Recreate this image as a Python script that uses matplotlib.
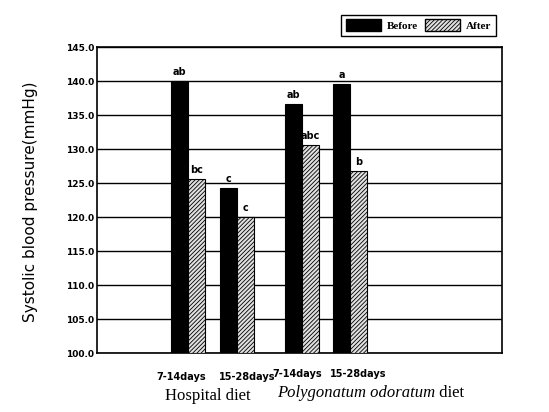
import numpy as np
import matplotlib.pyplot as plt
from matplotlib.patches import Patch

# ---------------- data ----------------
periods = ["7-14days", "15-28days", "7-14days", "15-28days"]
diets = ["Hospital diet", "Polygonatum odoratum diet"]
before = [140.0, 124.2, 136.6, 139.6]
after = [125.6, 120.0, 130.6, 126.8]
letters_before = ["ab", "c", "ab", "a"]
letters_after = ["bc", "c", "abc", "b"]
yticks = np.arange(100, 145.1, 5)

# ---------------- layout ----------------
x = np.array([0, 1, 2.33, 3.31])
w = 0.35

plt.rcParams['hatch.linewidth'] = 0.6
fig = plt.figure(figsize=(5.49, 4.12), dpi=100)
ax = fig.add_axes([0.1767, 0.1432, 0.7377, 0.7427])

hatch_fill = "#e0e0e0"
b1 = ax.bar(x - w / 2, [v - 100 for v in before], w, bottom=100,
            color="black", edgecolor="black", linewidth=0.8, zorder=3)
b2 = ax.bar(x + w / 2, [v - 100 for v in after], w, bottom=100,
            color=hatch_fill, edgecolor="black", hatch="////////", linewidth=0.8, zorder=3)

for xi, v, t in zip(x - w / 2, before, letters_before):
    ax.text(xi, v + 0.6, t, ha="center", va="bottom", fontsize=7, fontweight="bold")
for xi, v, t in zip(x + w / 2, after, letters_after):
    ax.text(xi, v + 0.6, t, ha="center", va="bottom", fontsize=7, fontweight="bold")

ax.set_ylim(100, 145)
ax.set_xlim(-1.86, 6.41)
ax.set_yticks(yticks)
ax.set_yticklabels([f"{t:.1f}" for t in yticks], fontsize=6.5, fontweight="bold")
ax.tick_params(axis="y", length=0, pad=2)
ax.set_xticks([])
ax.yaxis.grid(True, color="black", linewidth=1.0, zorder=0)
ax.set_axisbelow(True)
for s in ax.spines.values():
    s.set_linewidth(1.2)

# period labels
tick_off = [-0.14, 0.2, -0.1, 0.17]
tick_y = [-0.078, -0.078, -0.07, -0.07]
for xi, off, ty, p in zip(x, tick_off, tick_y, periods):
    ax.text(xi + off, ty, p, transform=ax.get_xaxis_transform(),
            ha="center", va="center", fontsize=7, fontweight="bold")

# diet labels
ax.text(0.5 - 0.1, -0.14, diets[0], transform=ax.get_xaxis_transform(),
        ha="center", va="center", fontsize=12, family="Liberation Serif")
t1 = fig.text(0.505, 0.036, "Polygonatum odoratum", fontsize=12,
              family="Liberation Serif", style="italic", va="baseline")
ax.annotate(" diet", xy=(1, 0), xycoords=t1, va="bottom", fontsize=12,
            family="Liberation Serif")

fig.text(0.055, 0.51, "Systolic blood pressure(mmHg)", rotation=90,
         ha="center", va="center", fontsize=11)

leg = fig.legend([Patch(facecolor="black", edgecolor="black"),
                  Patch(facecolor=hatch_fill, edgecolor="black", hatch="////////")],
                 ["Before", "After"], loc="upper right",
                 bbox_to_anchor=(0.913, 0.978), ncol=2, fancybox=False,
                 edgecolor="black", framealpha=1,
                 prop={"family": "Liberation Serif", "weight": "bold", "size": 8},
                 handlelength=3.2, handleheight=1.3, columnspacing=0.6,
                 handletextpad=0.5, borderpad=0.4)
leg.get_frame().set_linewidth(1.0)

fig.savefig("out.png", dpi=100)
